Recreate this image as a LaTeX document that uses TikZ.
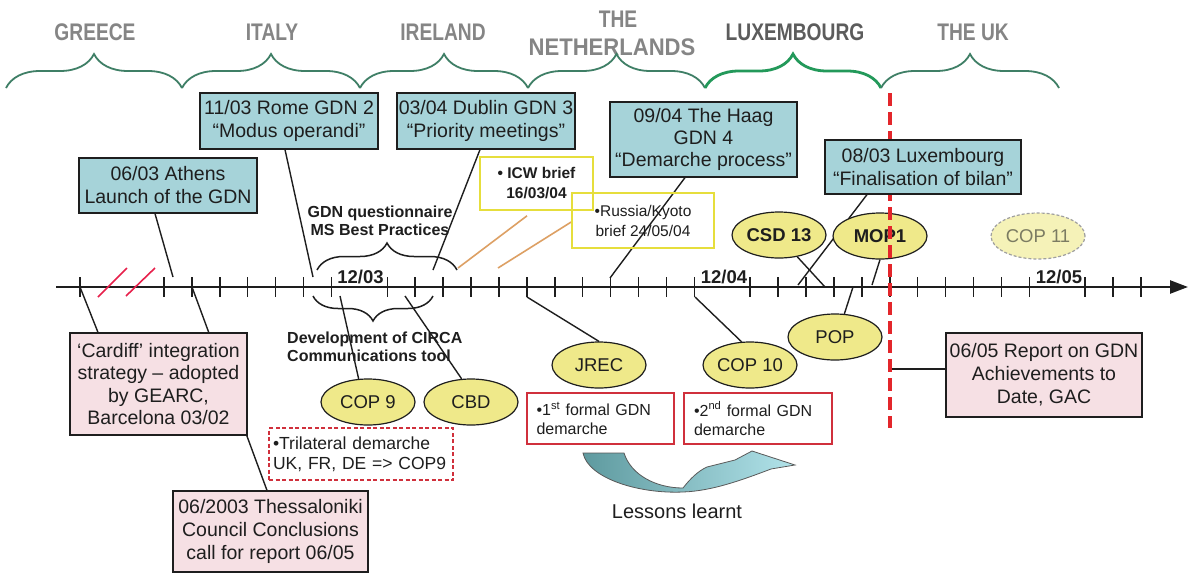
\documentclass[tikz,border=0pt]{standalone}
\usepackage{fontspec}
\setmainfont{Liberation Sans}
\newfontfamily\narrowfont[FakeStretch=0.8]{Liberation Sans}
\usetikzlibrary{shapes.geometric,decorations.pathreplacing,arrows.meta,backgrounds}
\newcommand\fsz[2]{\fontsize{#1}{#2}\selectfont}
\definecolor{tealfill}{HTML}{A6D3D9}
\definecolor{pinkfill}{HTML}{F6E0E4}
\definecolor{ellfill}{HTML}{EFE98A}
\definecolor{ellpale}{HTML}{F5F2B8}
\definecolor{bracegreen}{HTML}{3F7F66}
\definecolor{luxgreen}{HTML}{23995A}
\definecolor{ctrygray}{HTML}{858585}
\definecolor{ctrydark}{HTML}{5C5C5C}
\definecolor{redline}{HTML}{E3262B}
\definecolor{orangeln}{HTML}{DDA064}
\definecolor{yellowbd}{HTML}{E6DE3C}
\definecolor{redbox}{HTML}{D0303C}
\definecolor{arrowdark}{HTML}{5E9A9F}
\definecolor{arrowlight}{HTML}{B2E3EA}
\definecolor{inkc}{HTML}{1E1E1E}
\definecolor{palegray}{HTML}{7B7B62}

\begin{document}
\begin{tikzpicture}[x=1pt,y=-1pt,
  ctry/.style={font=\narrowfont\bfseries\fsz{24}{28}, text=ctrygray, inner sep=0pt, anchor=base},
  countrybrace/.style={draw=bracegreen, line width=1.8pt, decorate, decoration={brace, amplitude=34pt}},
  tealbox/.style={draw=inkc, line width=1.2pt, fill=tealfill, text=inkc, align=center, inner sep=0pt, font=\fsz{19.5}{23}},
  pinkbox/.style={tealbox, fill=pinkfill},
  ell/.style={ellipse, draw=inkc, line width=1.2pt, fill=ellfill, text=inkc, minimum width=94pt, minimum height=46pt, inner sep=0pt, font=\fsz{18.5}{22}},
  ybox/.style={draw=yellowbd, line width=1.6pt, text=inkc, align=center, inner sep=0pt},
  rbox/.style={draw=redbox, line width=1.4pt, fill=white, text=inkc, inner sep=0pt, text width=128pt, align=left, font=\fsz{16}{19}},
  tribox/.style={draw=redbox, line width=1.3pt, dash pattern=on 4pt off 2.5pt, fill=white, text=inkc, inner sep=0pt, text width=176pt, align=left, font=\fsz{17.5}{20}},
  boldlbl/.style={font=\bfseries\fsz{16}{18.5}, text=inkc, inner sep=0pt},
  datelbl/.style={font=\bfseries\fsz{18.5}{22}, text=inkc, inner sep=0pt, anchor=base},
  conn/.style={draw=inkc, line width=1.4pt},
  tickmark/.style={draw=inkc, line width=1.5pt},
  blackbrace/.style={draw=inkc, line width=1.5pt, decorate},
  orangeconn/.style={draw=orangeln, line width=1.6pt},
  breakmark/.style={draw=redline!85!magenta, line width=1.6pt},
  reddash/.style={draw=redline, line width=4pt, dash pattern=on 13pt off 6pt}
]
\useasboundingbox (0,0) rectangle (1190,573);

% ---------- points on the time axis ----------
\coordinate (axL) at (56,287);
\coordinate (axR) at (1188,287);
\coordinate (a1) at (173,277);
\coordinate (a2) at (313,277);
\coordinate (a3) at (433,270);
\coordinate (a4) at (610,278);
\coordinate (a5) at (798,285);
\coordinate (b1) at (80,287);
\coordinate (b2) at (192,287);
\coordinate (b3) at (340,296);
\coordinate (b4) at (405,296);
\coordinate (b5) at (527,297);
\coordinate (b6) at (695,297);
\coordinate (b7) at (853,287);
\coordinate (b8) at (872,285);
\coordinate (b9) at (825,287);
\coordinate (o1) at (458,268);
\coordinate (o2) at (498,268);
\coordinate (redtop) at (890,93);
\coordinate (redbot) at (890,428);
\coordinate (rl) at (890,369);

% ---------- presidencies ----------
\node[ctry] (greece) at (95,40) {GREECE};
\node[ctry] (italy) at (272,40) {ITALY};
\node[ctry] (ireland) at (443,40) {IRELAND};
\node[ctry] (nlthe) at (618,27) {THE};
\node[ctry] (nl) at (612,55) {\scalebox{1.15}[1]{NETHERLANDS}};
\node[ctry, text=ctrydark] (luxc) at (795,40) {LUXEMBOURG};
\node[ctry] (uk) at (973,40) {THE UK};

\draw[countrybrace] (6,88) -- (182,88);
\draw[countrybrace] (182,88) -- (360,88);
\draw[countrybrace] (360,88) -- (528,88);
\draw[countrybrace] (528,88) -- (705,88);
\draw[countrybrace, draw=luxgreen, line width=2.8pt] (705,88) -- (881,88);
\draw[countrybrace] (881,88) -- (1059,88);

% ---------- meetings ----------
\node[tealbox, minimum width=178pt, minimum height=55pt] (athens) at (168,185.5) {06/03 Athens\\Launch of the GDN};
\node[tealbox, minimum width=178pt, minimum height=56pt] (rome) at (289,121) {11/03 Rome GDN 2\\“Modus operandi”};
\node[tealbox, minimum width=178pt, minimum height=56pt] (dublin) at (486,121) {03/04 Dublin GDN 3\\“Priority meetings”};
\node[tealbox, minimum width=187pt, minimum height=75pt, font=\fsz{19.5}{22}] (haag) at (703.5,139.5) {09/04 The Haag\\GDN 4\\“Demarche process”};

\node[pinkbox, minimum width=177pt, minimum height=102pt, font=\fsz{19.5}{22.5}] (cardiff) at (158.5,384) {‘Cardiff’ integration\\strategy – adopted\\by GEARC,\\Barcelona 03/02};
\node[pinkbox, minimum width=195pt, minimum height=81pt] (thess) at (270.5,531.5) {06/2003 Thessaloniki\\Council Conclusions\\call for report 06/05};
\node[pinkbox, minimum width=196pt, minimum height=84pt] (report) at (1044,375) {06/05 Report on GDN\\Achievements to\\Date, GAC};

% ---------- conferences ----------
\node[ell] (cop9) at (368,402) {COP 9};
\node[ell] (cbd) at (471,402) {CBD};
\node[ell] (jrec) at (599,365) {JREC};
\node[ell] (cop10) at (750,365) {COP 10};
\node[ell] (pop) at (835,337) {POP};
\node[ell, font=\bfseries\fsz{18.5}{22}] (csd) at (779,235) {CSD 13};
\node[ell, font=\bfseries\fsz{18.5}{22}] (mop) at (880,236) {MOP1};
\node[ell, fill=ellpale, draw=gray!75, dash pattern=on 3pt off 2pt, text=palegray] (cop11) at (1038,236) {COP 11};

% end of the Luxembourg presidency, below the Luxembourg box
\draw[reddash] (redtop) -- (redbot);

\node[tealbox, minimum width=196pt, minimum height=54pt] (lux) at (923,167) {08/03 Luxembourg\\“Finalisation of bilan”};

% ---------- briefs and demarches ----------
\node[ybox, minimum width=113pt, minimum height=53pt, font=\bfseries\fsz{15.5}{20}] (icw) at (536.5,183.5) {• ICW brief\\16/03/04};
\node[ybox, minimum width=142pt, minimum height=55pt, font=\fsz{15.5}{20}] (russia) at (643,220.5) {•Russia/Kyoto\\brief 24/05/04};

\node[rbox, minimum width=147pt, minimum height=51pt] (gdn1) at (600.5,418.5) {•1\textsuperscript{st} formal GDN\\demarche};
\node[rbox, minimum width=148pt, minimum height=51pt] (gdn2) at (758,418.5) {•2\textsuperscript{nd} formal GDN\\demarche};
\node[tribox, minimum width=184pt, minimum height=52pt] (tri) at (361,454) {•Trilateral demarche\\UK, FR, DE => COP9};

% ---------- labels ----------
\node[boldlbl, align=center] (gdnq) at (380,221) {GDN questionnaire\\MS Best Practices};
\node[boldlbl, align=left, anchor=west] (circa) at (287,347) {Development of CIRCA\\Communications tool};
\node[datelbl] (d03) at (360.5,283) {12/03};
\node[datelbl] (d04) at (724,283) {12/04};
\node[datelbl] (d05) at (1059,283) {12/05};
\node[font=\fsz{20}{24}, text=inkc, inner sep=0pt] (lessons) at (677,511) {Lessons learnt};

% ---------- everything that runs behind the boxes ----------
\begin{scope}[on background layer]
  \fill[white] (0,0) rectangle (1190,573);

  % time axis with its month ticks
  \draw[draw=inkc, line width=2.4pt, -{Triangle[length=18pt,width=13pt]}] (axL) -- (axR);
  \draw[tickmark] (80,277) -- (80,297);
  \foreach \i in {0,...,35}{
    \pgfmathtruncatemacro\tickoff{(\i==7)||(\i==20)||(\i==32)}
    \ifnum\tickoff=0 \draw[tickmark] ({164+27.914*\i},277) -- ++(0,20); \fi
  }
  \draw[breakmark] (98,297) -- (127,268);
  \draw[breakmark] (126,296) -- (155,268);

  % braces over and under the axis
  \draw[blackbrace, decoration={brace, amplitude=27pt}] (317,270) -- (457,270);
  \draw[blackbrace, decoration={brace, amplitude=25pt, mirror}] (313,296) -- (433,296);

  % connectors
  \draw[conn] ([xshift=-13pt]athens.south) -- (a1);
  \draw[conn] ([xshift=-4pt]rome.south) -- (a2);
  \draw[conn] ([xshift=-6pt]dublin.south) -- (a3);
  \draw[conn] ([xshift=-18.5pt]haag.south) -- (a4);
  \draw[conn] ([xshift=-56pt]lux.south) -- (a5);
  \draw[conn] (b1) -- ([xshift=-60.5pt]cardiff.north);
  \draw[conn] (b2) -- ([xshift=-3.5pt]thess.north);
  \draw[conn] (b3) -- (cop9.112);
  \draw[conn] (b4) -- (cbd.112);
  \draw[conn] (b5) -- (jrec.north);
  \draw[conn] (b6) -- (cop10.110);
  \draw[conn] (b7) -- (pop.68);
  \draw[conn] (mop.south) -- (b8);
  \draw[conn] (csd.310) -- (b9);
  \draw[conn] (rl) -- (rl -| report.west);
  \draw[orangeconn] ([xshift=-9.5pt,yshift=-5pt]icw.south) -- (o1);
  \draw[orangeconn] ([yshift=-1.5pt]russia.west) -- (o2);
\end{scope}

% lessons carried from the first demarche to the second
\shadedraw[left color=arrowdark, right color=arrowlight, draw=black!65, line width=0.8pt]
  (583,453) -- (624,453)
  .. controls (631,475) and (656,488) .. (683,488)
  .. controls (690,479) and (698,471) .. (707,467)
  -- (735,460) -- (752,451) -- (795,465) -- (771,469)
  .. controls (742,480) and (712,491) .. (683,492)
  .. controls (638,494) and (588,478) .. (583,453) -- cycle;

\end{tikzpicture}
\end{document}
